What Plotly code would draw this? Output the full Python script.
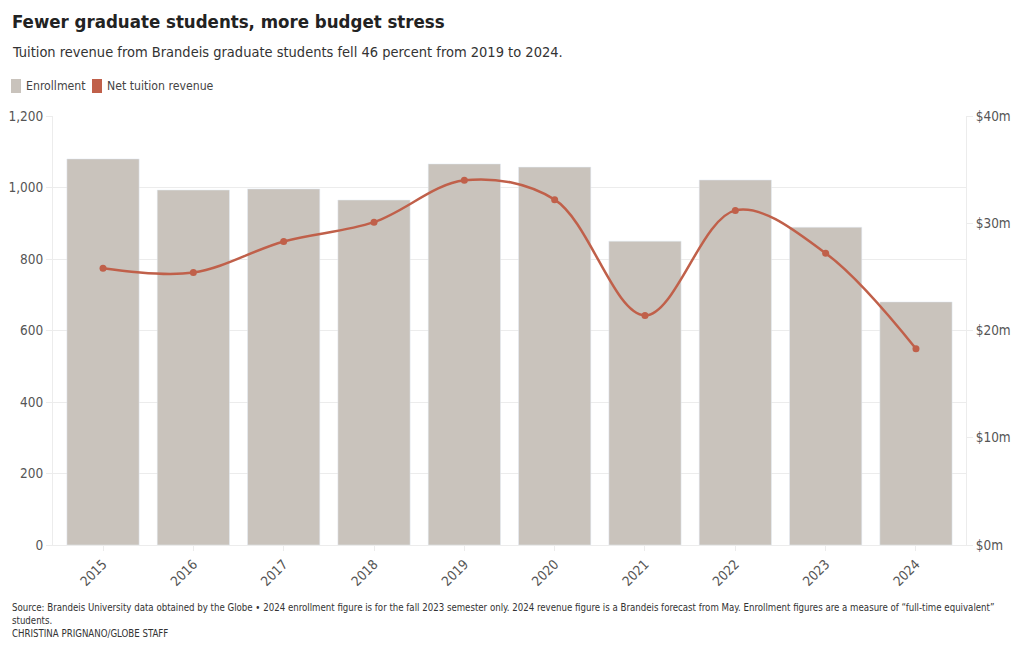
import plotly.graph_objects as go

years = ["2015", "2016", "2017", "2018", "2019", "2020", "2021", "2022", "2023", "2024"]
enrollment = [1080, 993, 996, 965, 1066, 1057, 850, 1021, 889, 680]
revenue_m = [25.8, 25.4, 28.3, 30.1, 34.0, 32.2, 21.4, 31.2, 27.2, 18.3]
left_ticks = [0, 200, 400, 600, 800, 1000, 1200]
right_ticks = [0, 10, 20, 30, 40]
right_labels = ["$0m", "$10m", "$20m", "$30m", "$40m"]

FONT = "DejaVu Sans Condensed, Liberation Sans Narrow, sans-serif"
BAR_C = "#c9c3bc"
LINE_C = "#c0604a"
GRID_C = "#ececec"

ML, MR, MT, MB = 53, 54, 116, 105
W, H = 1020, 650
pw, ph = W - ML - MR, H - MT - MB

def px_x(x):
    return (x - ML) / pw

def px_y(y):
    return (H - MB - y) / ph

fig = go.Figure()
fig.add_trace(go.Bar(x=years, y=enrollment, marker_color=BAR_C, name="Enrollment",
                     width=0.8, yaxis="y"))
fig.add_trace(go.Scatter(x=years, y=revenue_m, mode="lines+markers", name="Net tuition revenue",
                         line=dict(color=LINE_C, width=2.5, shape="spline", smoothing=1.0),
                         marker=dict(color=LINE_C, size=7), yaxis="y2"))

fig.update_layout(
    width=W, height=H,
    margin=dict(l=ML, r=MR, t=MT, b=MB, autoexpand=False),
    paper_bgcolor="white", plot_bgcolor="white",
    font=dict(family=FONT, color="#444", size=13.5),
    showlegend=False,
    xaxis=dict(type="category", tickangle=-45, showgrid=False, showline=True, automargin=False,
               linecolor=GRID_C, ticks="outside", ticklen=5, tickcolor=GRID_C,
               tickfont=dict(size=13.5, color="#555")),
    yaxis=dict(range=[0, 1200], tickvals=left_ticks, tickformat=",", showgrid=True, automargin=False,
               gridcolor=GRID_C, zeroline=False, showline=True, linecolor=GRID_C,
               ticks="outside", ticklen=6, tickcolor=GRID_C,
               tickfont=dict(size=13.5, color="#555")),
    yaxis2=dict(range=[0, 40], tickvals=right_ticks, ticktext=right_labels, overlaying="y",
                side="right", showgrid=False, zeroline=False, showline=True, linecolor=GRID_C,
                automargin=False, ticks="outside", ticklen=6, tickcolor=GRID_C,
                tickfont=dict(size=13.5, color="#555")),
)

anns = [
    ("<b>Fewer graduate students, more budget stress</b>", 10, 21, 18.5, "#222"),
    ("Tuition revenue from Brandeis graduate students fell 46 percent from 2019 to 2024.", 10, 52, 14.5, "#333"),
    ("Enrollment", 24, 86, 12.2, "#444"),
    ("Net tuition revenue", 105, 86, 12.2, "#444"),
    ("Source: Brandeis University data obtained by the Globe \u2022 2024 enrollment figure is for the fall 2023 semester only. 2024 revenue figure is a Brandeis forecast from May. Enrollment figures are a measure of \u201cfull-time equivalent\u201d",
     10, 607, 9.6, "#333"),
    ("students.", 10, 620, 9.6, "#333"),
    ("CHRISTINA PRIGNANO/GLOBE STAFF", 10, 633, 9.6, "#333"),
]
for text, x, y, size, color in anns:
    fig.add_annotation(xref="paper", yref="paper", x=px_x(x), y=px_y(y),
                       xanchor="left", yanchor="middle", text=text, showarrow=False,
                       font=dict(family=FONT, size=size, color=color))

for x0, c in [(11, BAR_C), (92, LINE_C)]:
    fig.add_shape(type="rect", xref="paper", yref="paper",
                  x0=px_x(x0), x1=px_x(x0 + 10), y0=px_y(93), y1=px_y(79),
                  fillcolor=c, line=dict(width=0), layer="above")

fig.write_html("out.html")
